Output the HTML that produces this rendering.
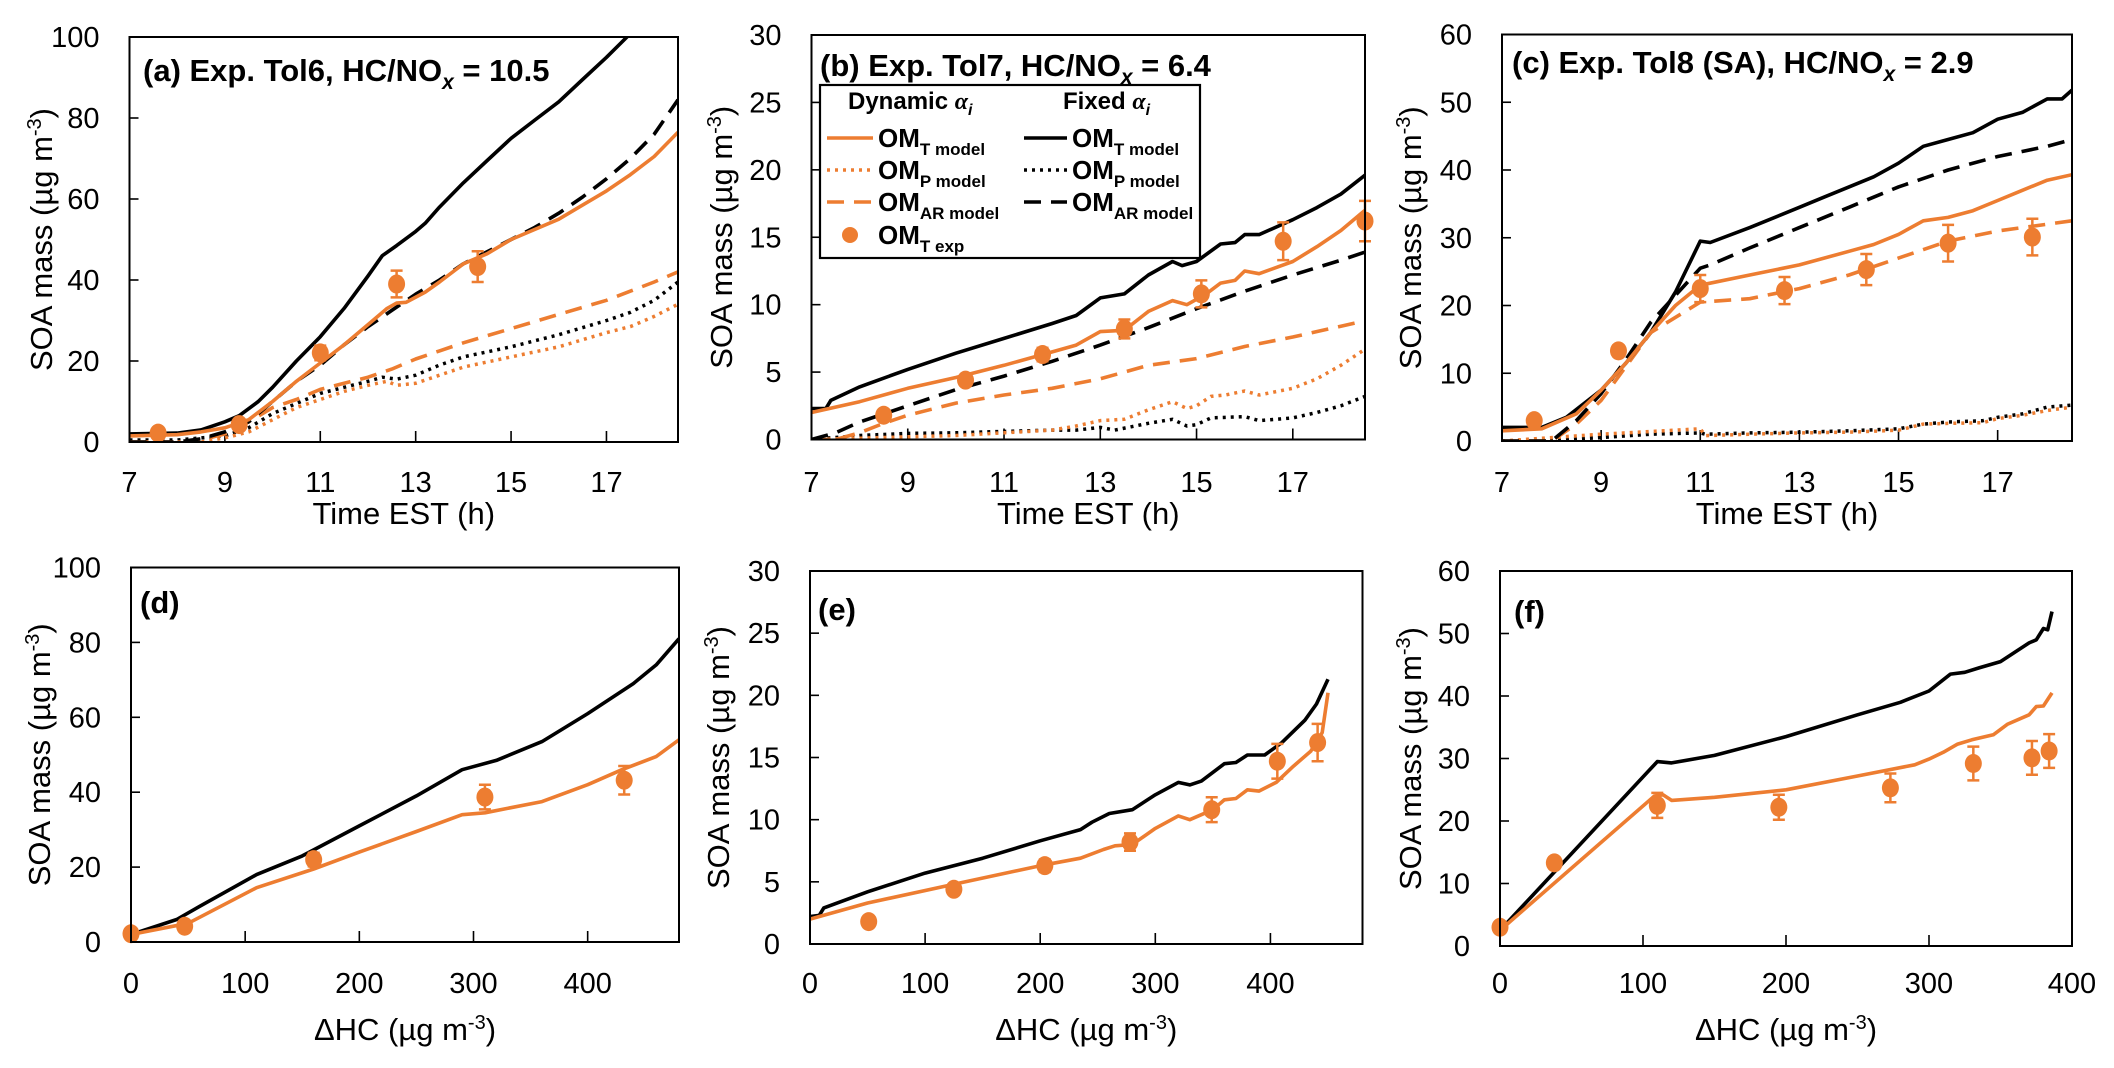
<!DOCTYPE html>
<html><head><meta charset="utf-8"><style>
html,body{margin:0;padding:0;background:#fff;}
svg{display:block;}
text{font-family:"Liberation Sans Narrow","Liberation Sans",sans-serif;fill:#000;}
</style></head><body>
<svg id="fig" width="2114" height="1068" viewBox="0 0 2114 1068" xmlns="http://www.w3.org/2000/svg"></svg>
<script>
// ---------- Panel (a) data: [time h, SOA µg m-3] ----------
const aTfix=[[7,2],[8,2.2],[8.5,3],[9,5],[9.3,6.5],[9.7,10],[10,13.5],[10.5,20],[11,26],[11.5,33],[12,41],[12.3,46],[12.6,48.5],[13,52],[13.2,54],[13.5,58],[14,64],[14.5,69.5],[15,75],[15.5,79.5],[16,84],[16.5,89.5],[17,95],[17.3,98.5],[17.6,102]];
const aTdyn=[[7,1.5],[8,1.8],[8.5,2.5],[9,3.5],[9.5,5.5],[10,10],[10.5,15],[11,19.5],[11.5,24],[12,29],[12.4,33],[12.6,34.3],[12.8,34.5],[13.2,37],[13.5,39.5],[14,44],[14.5,46.5],[15,50],[15.5,52.5],[16,55],[16.5,58.5],[17,62],[17.5,66],[18,70.5],[18.5,76.5]];
const aARfix=[[7,0],[8,0],[8.5,0.8],[9,2.5],[9.5,5],[10,10],[10.5,15],[11,19],[11.5,24],[12,28.5],[12.5,32.5],[13,36.5],[13.5,40],[14,44],[14.5,47],[15,50],[15.5,53],[16,56.5],[16.5,60.5],[17,65],[17.5,70],[18,76],[18.5,84.5]];
const aARdyn=[[7,0],[8,0],[8.5,0.5],[9,2],[9.5,5],[10,8.5],[10.5,10.5],[11,13],[11.5,14.5],[12,16],[12.5,18],[13,20.5],[13.5,22.5],[14,24.5],[15,28],[16,31.5],[17,35],[18,39.5],[18.5,42]];
const aPfix=[[7,0.5],[8,0.5],[8.5,1],[9,1.5],[9.5,3.5],[10,7],[10.5,9.5],[11,12],[11.5,13.5],[12,15],[12.3,16],[12.6,15.5],[13,16.5],[13.5,19],[14,21],[15,23.5],[16,26.5],[17,30],[17.5,32],[18,35],[18.5,39.5]];
const aPdyn=[[7,0],[8.5,0],[9,1],[9.5,2.5],[10,5.5],[10.5,8.5],[11,10.5],[11.5,12.5],[12,14],[12.4,15],[12.6,14],[13,14.5],[13.5,16.5],[14,18.5],[15,21],[16,23.5],[17,27],[17.5,28.5],[18,31],[18.5,34]];
const aExp=[[7.6,2.2,0],[9.3,4.3,1],[11,22,1.8],[12.6,39,3.3],[14.3,43.3,3.8]];
// ---------- Panel (b) ----------
const bTfix=[[7,2.3],[7.3,2.3],[7.4,2.9],[8,3.9],[9,5.2],[10,6.4],[11,7.5],[12,8.6],[12.5,9.2],[13,10.5],[13.5,10.8],[14,12.2],[14.5,13.2],[14.7,12.9],[15,13.2],[15.5,14.5],[15.8,14.6],[16,15.2],[16.3,15.2],[17,16.3],[17.5,17.2],[18,18.2],[18.5,19.6]];
const bTdyn=[[7,2],[8,2.8],[9,3.8],[10,4.6],[11,5.5],[12,6.5],[12.5,7],[13,8],[13.5,8.1],[14,9.5],[14.5,10.3],[14.8,10],[15.2,10.8],[15.5,11.6],[15.8,11.8],[16,12.5],[16.3,12.3],[17,13.2],[17.5,14.3],[18,15.5],[18.5,17]];
const bARfix=[[7,0],[7.5,0.5],[8,1.3],[9,2.5],[10,3.7],[11,4.7],[12,5.8],[13,7],[14,8.3],[15,9.7],[16,11],[17,12.2],[18,13.3],[18.5,13.9]];
const bARdyn=[[7,0],[7.5,0],[8,0.5],[8.5,1.2],[9,1.8],[10,2.7],[11,3.3],[12,3.8],[13,4.5],[14,5.5],[15,6],[16,6.9],[17,7.6],[18,8.4],[18.5,8.8]];
const bPfix=[[7,0],[8,0.3],[9,0.45],[10,0.5],[11,0.6],[12,0.7],[12.5,0.7],[13,0.9],[13.3,0.7],[14,1.2],[14.5,1.5],[14.8,1],[15,1.1],[15.3,1.6],[16,1.7],[16.3,1.4],[17,1.6],[17.5,2],[18,2.5],[18.5,3.2]];
const bPdyn=[[7,0],[8,0.1],[9,0.2],[10,0.3],[11,0.5],[12,0.7],[12.5,1],[13,1.4],[13.5,1.5],[14,2.2],[14.5,2.8],[14.8,2.3],[15,2.5],[15.3,3.2],[15.6,3.3],[16,3.6],[16.3,3.3],[17,3.8],[17.5,4.5],[18,5.5],[18.5,6.7]];
const bExp=[[8.5,1.8,0.3],[10.2,4.4,0.4],[11.8,6.3,0.5],[13.5,8.2,0.7],[15.1,10.8,1],[16.8,14.7,1.4],[18.5,16.2,1.5]];
// ---------- Panel (c) ----------
const cTfix=[[7,2],[7.8,2],[8.3,3.5],[9,7.5],[9.5,11.5],[10,16],[10.5,22],[11,29.5],[11.2,29.3],[12,31.5],[13,34.5],[13.5,36],[14,37.5],[14.5,39],[15,41],[15.5,43.5],[16,44.5],[16.5,45.5],[17,47.5],[17.5,48.5],[18,50.5],[18.3,50.5],[18.5,51.8]];
const cTdyn=[[7,1.5],[7.8,1.8],[8.5,4],[9,7.5],[9.5,11.5],[10,16],[10.5,20],[11,23],[12,24.5],[13,26],[14,28],[14.5,29],[15,30.5],[15.5,32.5],[16,33],[16.5,34],[17,35.5],[17.5,37],[18,38.5],[18.5,39.3]];
const cARfix=[[7,0],[8,0],[8.5,3],[9,7],[9.5,12],[10,17.5],[11,25.5],[11.2,26],[12,28.5],[13,31.5],[14,34.5],[15,37.5],[16,40],[17,42],[18,43.5],[18.5,44.5]];
const cARdyn=[[7,0],[8,0],[8.5,2.5],[9,6],[9.5,11],[10,16],[11,20.5],[12,21],[13,22.5],[14,24.5],[15,27],[16,29.5],[17,31],[18,32],[18.5,32.5]];
const cPfix=[[7,0],[8,0.1],[9,0.5],[10,1],[11,1.2],[11.1,1],[12,1.2],[13,1.3],[14,1.5],[15,1.8],[15.5,2.5],[16,2.8],[16.7,3],[17,3.5],[17.5,4],[18,5],[18.5,5.3]];
const cPdyn=[[7,0],[8,0.5],[9,1],[10,1.4],[11,1.8],[11.1,0.8],[12,1],[13,1.2],[14,1.3],[15,1.6],[15.5,2.5],[16,2.6],[16.7,2.7],[17,3.3],[17.5,3.8],[18,4.5],[18.5,5]];
const cExp=[[7.65,3,0],[9.35,13.3,0.8],[11,22.5,2],[12.7,22.2,2],[14.35,25.3,2.3],[16,29.2,2.7],[17.7,30.1,2.7]];
// ---------- Panels (d)-(f): [ΔHC, SOA] ----------
const dTfix=[[0,2],[40,6],[60,9.5],[110,18],[150,23],[200,31],[250,39],[290,46],[320,48.5],[360,53.5],[400,61],[440,69],[460,74],[480,81]];
const dTdyn=[[0,2],[50,5],[110,14.5],[160,19.5],[200,24],[250,29.5],[290,34],[310,34.5],[360,37.5],[400,42],[430,46],[460,49.5],[480,54]];
const dExp=[[0,2.2,0],[47,4.2,1],[160,22,1.8],[310,38.7,3.3],[432,43.2,3.8]];
const eTfix=[[0,2.2],[8,2.3],[12,2.9],[50,4.2],[100,5.7],[150,6.9],[200,8.3],[235,9.2],[245,9.8],[260,10.5],[280,10.8],[300,12],[320,13],[330,12.8],[340,13.1],[360,14.5],[370,14.6],[380,15.2],[395,15.2],[410,16.2],[430,18],[440,19.3],[450,21.3]];
const eTdyn=[[0,2],[50,3.3],[125,4.8],[200,6.3],[235,6.9],[255,7.6],[265,7.9],[280,8],[300,9.3],[320,10.3],[330,10],[350,10.8],[360,11.6],[370,11.7],[380,12.4],[390,12.3],[405,13],[420,14.3],[435,15.5],[445,17],[450,20.2]];
const eExp=[[51,1.8,0],[125,4.4,0],[204,6.3,0.5],[278,8.2,0.7],[349,10.8,1],[406,14.7,1.4],[441,16.2,1.5]];
const fTfix=[[0,2.5],[110,29.5],[120,29.3],[150,30.5],[200,33.5],[250,37],[280,39],[300,40.8],[315,43.5],[325,43.8],[335,44.5],[350,45.5],[360,47],[370,48.5],[375,49],[380,50.8],[383,50.6],[386,53.5]];
const fTdyn=[[0,2.5],[108,24],[114,24.2],[120,23.3],[150,23.8],[200,25],[250,27.2],[290,29],[300,29.9],[310,31],[320,32.3],[330,33],[345,33.8],[355,35.5],[370,37],[375,38.3],[380,38.4],[386,40.5]];
const fExp=[[0,3,0],[38,13.3,0.8],[110,22.5,2],[195,22.2,2],[273,25.3,2.3],[331,29.2,2.7],[372,30.1,2.7],[384,31.2,2.7]];
// ---------- tick labels ----------
const timeTicks=[7,9,11,13,15,17];
const hcTicks=[0,100,200,300,400];
const yTicks100=[0,20,40,60,80,100];
const yTicks30=[0,5,10,15,20,25,30];
const yTicks60=[0,10,20,30,40,50,60];

const OR='#ED7D31';
const NS='http://www.w3.org/2000/svg';
const svg=document.getElementById('fig');
function mk(tag,attrs,parent){const e=document.createElementNS(NS,tag);for(const k in attrs)e.setAttribute(k,attrs[k]);(parent||svg).appendChild(e);return e;}
const DASH='17 10', DOT='3 5';

const panels=[
 {id:'a',L:129.5,R:678,T:37,B:442,x0:7,x1:18.5,y1:100,xt:timeTicks,yt:yTicks100,xtitle:'Time EST (h)',ytx:41,label:['(a) Exp. Tol6, HC/NO','x',' = 10.5'],lx:143,ly:81,
  series:[[aPfix,'#000',DOT,'omp-fixed'],[aPdyn,OR,DOT,'omp-dynamic'],[aARdyn,OR,DASH,'omar-dynamic'],[aARfix,'#000',DASH,'omar-fixed'],[aTfix,'#000','','omt-fixed'],[aTdyn,OR,'','omt-dynamic']],exp:aExp},
 {id:'b',L:811.5,R:1365,T:35,B:439.5,x0:7,x1:18.5,y1:30,xt:timeTicks,yt:yTicks30,xtitle:'Time EST (h)',ytx:721,label:['(b) Exp. Tol7, HC/NO','x',' = 6.4'],lx:820,ly:76,
  series:[[bPfix,'#000',DOT,'omp-fixed'],[bPdyn,OR,DOT,'omp-dynamic'],[bARdyn,OR,DASH,'omar-dynamic'],[bARfix,'#000',DASH,'omar-fixed'],[bTfix,'#000','','omt-fixed'],[bTdyn,OR,'','omt-dynamic']],exp:bExp},
 {id:'c',L:1502,R:2072,T:34.5,B:441,x0:7,x1:18.5,y1:60,xt:timeTicks,yt:yTicks60,xtitle:'Time EST (h)',ytx:1410,label:['(c) Exp. Tol8 (SA), HC/NO','x',' = 2.9'],lx:1512,ly:73,
  series:[[cPfix,'#000',DOT,'omp-fixed'],[cPdyn,OR,DOT,'omp-dynamic'],[cARdyn,OR,DASH,'omar-dynamic'],[cARfix,'#000',DASH,'omar-fixed'],[cTfix,'#000','','omt-fixed'],[cTdyn,OR,'','omt-dynamic']],exp:cExp},
 {id:'d',L:131,R:679,T:567.5,B:942,x0:0,x1:480,y1:100,xt:hcTicks,yt:yTicks100,xtitle:'hc',ytx:39,label:['(d)'],lx:140,ly:613,
  series:[[dTfix,'#000','','omt-fixed'],[dTdyn,OR,'','omt-dynamic']],exp:dExp},
 {id:'e',L:810,R:1362.5,T:571,B:944,x0:0,x1:480,y1:30,xt:hcTicks,yt:yTicks30,xtitle:'hc',ytx:718,label:['(e)'],lx:818,ly:620,
  series:[[eTfix,'#000','','omt-fixed'],[eTdyn,OR,'','omt-dynamic']],exp:eExp},
 {id:'f',L:1500,R:2072,T:571,B:946,x0:0,x1:400,y1:60,xt:hcTicks,yt:yTicks60,xtitle:'hc',ytx:1410,label:['(f)'],lx:1514,ly:622,
  series:[[fTfix,'#000','','omt-fixed'],[fTdyn,OR,'','omt-dynamic']],exp:fExp}
];

panels.forEach(p=>{
  const g=mk('g',{});
  
  
  const sx=v=>p.L+(v-p.x0)/(p.x1-p.x0)*(p.R-p.L);
  const sy=v=>p.B-v/p.y1*(p.B-p.T);
  const cp=mk('clipPath',{id:'clip'+p.id},g);
  mk('rect',{x:p.L,y:p.T,width:p.R-p.L,height:p.B-p.T},cp);
  p.xt.forEach(v=>{
    const x=sx(v);
    const t=mk('line',{x1:x,x2:x,y1:p.B,y2:p.B-11,stroke:'#000','stroke-width':1.6},g);
    
    
    const tl=mk('text',{x:x,y:p.id<'d'?492:993,'font-size':29,'text-anchor':'middle'},g);
    
    
    tl.textContent=v;
  });
  p.yt.forEach(v=>{
    const y=sy(v);
    const t=mk('line',{x1:p.L,x2:p.L+9,y1:y,y2:y,stroke:'#000','stroke-width':1.6},g);
    
    
    const tl=mk('text',{x:p.L-30,y:y+10,'font-size':29,'text-anchor':'end'},g);
    
    
    tl.textContent=v;
  });
  const lg=mk('g',{'clip-path':'url(#clip'+p.id+')'},g);
  p.series.forEach(s=>{
    const d=s[0].map((pt,i)=>(i?'L':'M')+sx(pt[0]).toFixed(1)+','+sy(pt[1]).toFixed(1)).join('');
    const a={d:d,fill:'none',stroke:s[1],'stroke-width':s[2]===DOT?3.5:3.6,'stroke-linejoin':'round'};
    if(s[2])a['stroke-dasharray']=s[2];
    const pa=mk('path',a,lg);
    
    
  });
  p.exp.forEach(e=>{
    const x=sx(e[0]),y=sy(e[1]);
    if(e[2]>0){
      const y1=sy(e[1]+e[2]),y2=sy(e[1]-e[2]);
      const eb=mk('path',{d:`M${x},${y1}L${x},${y2}M${x-6},${y1}L${x+6},${y1}M${x-6},${y2}L${x+6},${y2}`,stroke:OR,'stroke-width':2.5,fill:'none'},g);
      
      
    }
    const c=mk('ellipse',{cx:x,cy:y,rx:8.5,ry:9.5,fill:OR},g);
    
    
  });
  const fr=mk('rect',{x:p.L,y:p.T,width:p.R-p.L,height:p.B-p.T,fill:'none',stroke:'#000','stroke-width':2},g);
  
  
  const lb=mk('text',{x:p.lx,y:p.ly,'font-size':31,'font-weight':'bold'},g);
  
  
  if(p.label.length>1){
    lb.innerHTML=p.label[0]+'<tspan dy="8" font-size="21" font-style="italic">'+p.label[1]+'</tspan><tspan dy="-8">'+p.label[2]+'</tspan>';
  } else lb.textContent=p.label[0];
  const xt=mk('text',{x:(p.L+p.R)/2,y:p.id<'d'?524:1040,'font-size':31,'text-anchor':'middle'},g);
  
  
  if(p.xtitle==='hc') xt.innerHTML='ΔHC (µg m<tspan dy="-11" font-size="20">-3</tspan><tspan dy="11">)</tspan>';
  else xt.textContent=p.xtitle;
  const cy=(p.T+p.B)/2;
  const yt=mk('text',{x:0,y:0,'font-size':31,'text-anchor':'middle',transform:`translate(${p.ytx+11},${cy}) rotate(-90)`},g);
  
  
  yt.innerHTML='SOA mass (µg m<tspan dy="-11" font-size="20">-3</tspan><tspan dy="11">)</tspan>';
});

const lgd=mk('g',{});


mk('rect',{x:820,y:85,width:380,height:173,fill:'#fff',stroke:'#000','stroke-width':2.2},lgd);
const h1=mk('text',{x:848,y:109,'font-size':24,'font-weight':'bold'},lgd);


h1.innerHTML='Dynamic  <tspan font-style="italic" font-family="Liberation Serif">α</tspan><tspan dy="6" font-size="16" font-style="italic">i</tspan>';
const h2=mk('text',{x:1063,y:109,'font-size':24,'font-weight':'bold'},lgd);


h2.innerHTML='Fixed <tspan font-style="italic" font-family="Liberation Serif">α</tspan><tspan dy="6" font-size="16" font-style="italic">i</tspan>';
const rows=[[138,'T model',''],[170,'P model',DOT],[202,'AR model',DASH]];
rows.forEach(r=>{
  [[827,873,878,OR,'dynamic'],[1024,1067,1072,'#000','fixed']].forEach(c=>{
    const a={x1:c[0],x2:c[1],y1:r[0],y2:r[0],stroke:c[3],'stroke-width':3.6};
    if(r[2])a['stroke-dasharray']=r[2];
    const ln=mk('line',a,lgd);
    
    
    const t=mk('text',{x:c[2],y:r[0]+9,'font-size':26,'font-weight':'bold'},lgd);
    
    
    t.innerHTML='OM<tspan dy="8" font-size="17">'+r[1]+'</tspan>';
  });
});
const lc=mk('circle',{cx:850,cy:235,r:8,fill:OR},lgd);


const lt=mk('text',{x:878,y:244,'font-size':26,'font-weight':'bold'},lgd);


lt.innerHTML='OM<tspan dy="8" font-size="17">T exp</tspan>';
</script>
</body></html>
